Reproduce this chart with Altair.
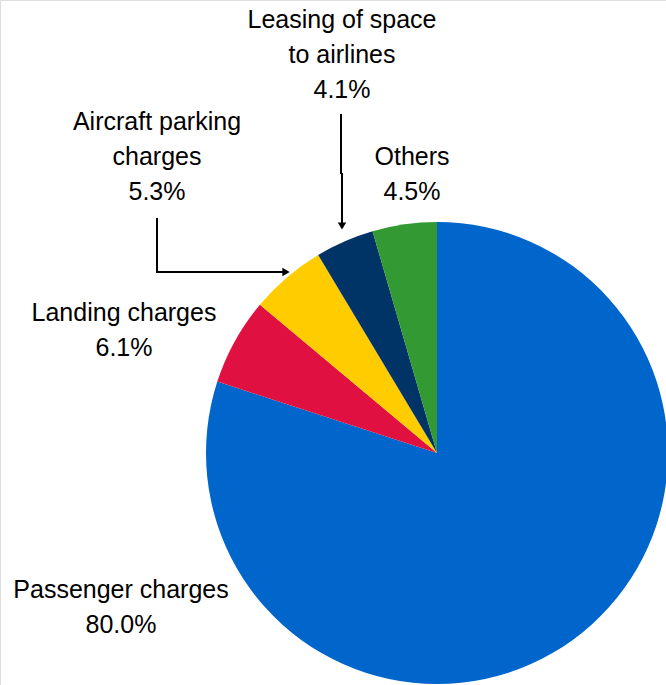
import altair as alt
import pandas as pd

categories = ["Passenger charges", "Landing charges", "Aircraft parking charges",
              "Leasing of space to airlines", "Others"]
values = [80.0, 6.1, 5.3, 4.1, 4.5]
colors = ["#0066CC", "#E01041", "#FFCC00", "#003366", "#339933"]
label_lines = [
    ["Passenger charges"],
    ["Landing charges"],
    ["Aircraft parking", "charges"],
    ["Leasing of space", "to airlines"],
    ["Others"],
]

df = pd.DataFrame({
    "category": categories,
    "value": values,
    "order": list(range(len(categories))),
    "label": ["\n".join(l + [f"{v:.1f}%"]) for l, v in zip(label_lines, values)],
})

CX, CY, R = 437, 453, 231
FONT = "Liberation Sans"
FS = 25

base = alt.Chart(df)

pie = base.mark_arc(radius=R, stroke=None).encode(
    theta=alt.Theta("value:Q", stack=True),
    order=alt.Order("order:Q"),
    color=alt.Color("category:N", scale=alt.Scale(domain=categories, range=colors), legend=None),
    x=alt.value(CX),
    y=alt.value(CY),
)

label_pos = {
    "Leasing of space to airlines": (342, 20),
    "Aircraft parking charges": (157, 122),
    "Others": (412, 157),
    "Landing charges": (124, 313),
    "Passenger charges": (121, 590),
}

text_layers = []
for cat, (lx, ly) in label_pos.items():
    t = base.transform_filter(alt.datum.category == cat).mark_text(
        font=FONT, fontSize=FS, lineBreak="\n", lineHeight=35,
        align="center", baseline="middle", color="#000000",
    ).encode(text="label:N", x=alt.value(lx), y=alt.value(ly))
    text_layers.append(t)

one = alt.Chart(pd.DataFrame({"a": [0]}))
lines = [
    one.mark_rule(color="black", strokeWidth=2).encode(x=alt.value(341), y=alt.value(114), y2=alt.value(174)),
    one.mark_rule(color="black", strokeWidth=2).encode(x=alt.value(342), y=alt.value(173), y2=alt.value(226)),
    one.mark_rule(color="black", strokeWidth=2).encode(x=alt.value(157), y=alt.value(218), y2=alt.value(273)),
    one.mark_rule(color="black", strokeWidth=2).encode(x=alt.value(156), x2=alt.value(284), y=alt.value(272)),
    one.mark_point(shape="triangle-down", filled=True, color="black", size=70, opacity=1).encode(
        x=alt.value(342), y=alt.value(226)),
    one.mark_point(shape="triangle-right", filled=True, color="black", size=70, opacity=1).encode(
        x=alt.value(286), y=alt.value(272)),
]

chart = alt.layer(pie, *text_layers, *lines).properties(
    width=666, height=685, padding=0,
    autosize=alt.AutoSizeParams(type="none"),
).configure_view(stroke=None).configure(background="white")

chart.save("out.html", embed_options={"renderer": "svg", "actions": False})
